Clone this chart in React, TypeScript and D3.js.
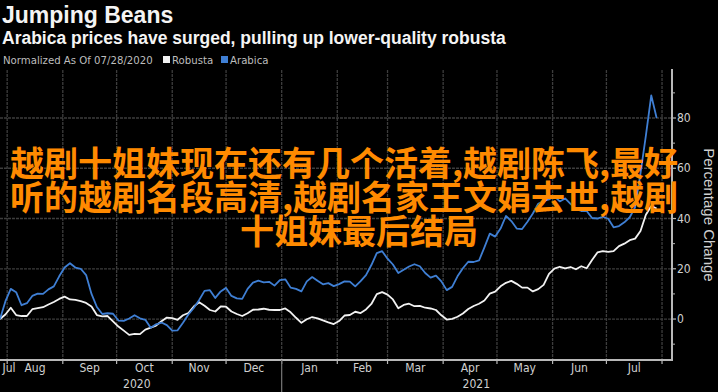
import React from "react";
import * as d3 from "d3";

const W = 718;
const H = 392;

const title = "Jumping Beans";
const subtitle = "Arabica prices have surged, pulling up lower-quality robusta";
const legendNote = "Normalized As Of 07/28/2020";
const seriesNames = ["Robusta", "Arabica"];
const seriesColors = ["#f2f2f2", "#3f7fd4"];
const axisTitle = "Percentage Change";

const dates = [
  "2020-07-28","2020-07-31","2020-08-03","2020-08-06","2020-08-09","2020-08-12","2020-08-15","2020-08-18","2020-08-21","2020-08-24",
  "2020-08-27","2020-08-30","2020-09-02","2020-09-05","2020-09-08","2020-09-11","2020-09-14","2020-09-17","2020-09-20","2020-09-23",
  "2020-09-26","2020-09-29","2020-10-02","2020-10-05","2020-10-08","2020-10-11","2020-10-14","2020-10-17","2020-10-20","2020-10-23",
  "2020-10-26","2020-10-29","2020-11-01","2020-11-04","2020-11-07","2020-11-10","2020-11-13","2020-11-16","2020-11-19","2020-11-22",
  "2020-11-25","2020-11-28","2020-12-01","2020-12-04","2020-12-07","2020-12-10","2020-12-13","2020-12-16","2020-12-19","2020-12-22",
  "2020-12-25","2020-12-28","2020-12-31","2021-01-03","2021-01-06","2021-01-09","2021-01-12","2021-01-15","2021-01-18","2021-01-21",
  "2021-01-24","2021-01-27","2021-01-30","2021-02-02","2021-02-05","2021-02-08","2021-02-11","2021-02-14","2021-02-17","2021-02-20",
  "2021-02-23","2021-02-26","2021-03-01","2021-03-04","2021-03-07","2021-03-10","2021-03-13","2021-03-16","2021-03-19","2021-03-22",
  "2021-03-25","2021-03-28","2021-03-31","2021-04-03","2021-04-06","2021-04-09","2021-04-12","2021-04-15","2021-04-18","2021-04-21",
  "2021-04-24","2021-04-27","2021-04-30","2021-05-03","2021-05-06","2021-05-09","2021-05-12","2021-05-15","2021-05-18","2021-05-21",
  "2021-05-24","2021-05-27","2021-05-30","2021-06-02","2021-06-05","2021-06-08","2021-06-11","2021-06-14","2021-06-17","2021-06-20",
  "2021-06-23","2021-06-26","2021-06-29","2021-07-02","2021-07-05","2021-07-08","2021-07-11","2021-07-14","2021-07-17","2021-07-20",
  "2021-07-23","2021-07-26","2021-07-29"
];

const arabica = [
  0, 7, 12, 10.7, 5.5, 6.3, 9.2, 10.1, 10, 11.8,
  13, 17, 20.5, 22.2, 20.5, 20, 17.5, 10, 4.8, 2,
  2.3, 2.1, -0.6, -0.7, 0.2, 1.5, 0.3, -0.3, -3.5, -2.1,
  -1.4, -2.4, -4.6, -4.5, -1.5, 1.8, 4.4, 7.6, 11.2, 11.5,
  8.4, 11, 12.4, 9.2, 8.2, 8, 12, 14.5, 15.3, 14.6,
  14.8, 13.3, 15.5, 15.8, 12.5, 12, 11, 15, 16.7, 15.2,
  13.8, 14.3, 13.1, 13.9, 15, 14.9, 13, 15.1, 17.5, 21.5,
  26.2, 27, 24, 21.7, 18.3, 19.6, 20.9, 21.8, 21, 18.3,
  16.5, 17.3, 15, 11.5, 12.8, 17, 20.2, 22.8, 22.7, 23.3,
  28.5, 34, 32.8, 36, 41, 39, 36, 35.8, 38.7, 42,
  45.9, 47, 47.6, 48.8, 46.8, 48, 45.8, 43.8, 43, 43,
  40.2, 40, 40.7, 39.9, 36.5, 37, 38.5, 40.5, 44.5, 58,
  73, 89, 80
];

const robusta = [
  0, 1.8, 4.5, 1.6, 1.2, 1.2, 3.9, 4.3, 4.7, 5.8,
  6.8, 8, 8.9, 7.8, 7.6, 7.1, 6.4, 5, 1.6, 1.1,
  1.2, -0.9, -3, -4.6, -6.3, -5.9, -6, -4.2, -3.4, -2.6,
  -0.9, 0.6, 0.4, -0.3, 1.5, 2.4, 5, 6.7, 5.3, 3.6,
  3, 5, 4.9, 3, 2, 1.2, 2.3, 3.7, 3.8, 4.1,
  3.7, 3.6, 3.6, 4.2, 2.7, 0.5, -1.5, -0.1, 0.8, 0.3,
  -0.5, -1.3, -2, -0.8, 1.4, 1.6, 2.9, 2.4, 3.8, 6,
  9.9, 10.7, 9.7, 7.8, 4.3, 5.6, 6.1, 5.1, 5.2, 4.5,
  4.2, 3.6, 1.5, -0.2, 0.1, 0.9, 2.2, 4, 5.2, 6.1,
  7.4, 10.1, 10.9, 13, 14.4, 15.2, 14, 12.5, 12.5, 11,
  11.9, 13.6, 18, 20.1, 20.8, 20.2, 20.7, 19.8, 21, 20.2,
  23.5, 26.5, 27, 26.7, 27, 29, 30, 31.4, 32, 35,
  41.5, 45, 44
];

const yTicks = [0, 20, 40, 60, 80];
const yMinorTicks = [-10, 10, 30, 50, 70, 90];
const monthLabels = ["Jul", "Aug", "Sep", "Oct", "Nov", "Dec", "Jan", "Feb", "Mar", "Apr", "May", "Jun", "Jul"];
const yearLabels = ["2020", "2021"];
const overlayLines = [
  "越剧十姐妹现在还有几个活着,越剧陈飞,最好",
  "听的越剧名段高清,越剧名家王文娟去世,越剧",
  "十姐妹最后结局",
];

const parse = d3.timeParse("%Y-%m-%d");
const condensed = "'Liberation Sans Narrow', 'DejaVu Sans Condensed', 'Roboto Condensed', 'Liberation Sans', sans-serif";

export default function App() {
  const parsed = dates.map((d) => parse(d) as Date);
  const start = parsed[0];
  const end = new Date(2021, 7, 6);
  const plotLeft = 0;
  const plotRight = 671;
  const plotTop = 69;
  const plotBottom = 360;

  const x = d3.scaleTime().domain([start, end]).range([plotLeft, plotRight]);
  const y = d3.scaleLinear().domain([-16.3, 99.5]).range([plotBottom, plotTop]);

  const line = d3
    .line<number>()
    .x((_, i) => x(parsed[i]))
    .y((v) => y(v))
    .curve(d3.curveLinear);

  const monthStarts = d3.timeMonth.range(new Date(2020, 6, 1), new Date(2021, 7, 1));
  const gridMonths = d3.timeMonth.range(new Date(2020, 7, 1), new Date(2021, 7, 2));
  const yearStart = new Date(2021, 0, 1);

  const monthPos = monthStarts.map((m) => {
    const a = m < start ? start : m;
    const nxt = d3.timeMonth.offset(m, 1);
    const b = nxt > end ? end : nxt;
    const mid = (x(a) + x(b)) / 2;
    return Math.max(mid, 9);
  });

  const yearPos = [
    (x(start) + x(yearStart)) / 2 - 4,
    (x(yearStart) + x(end)) / 2,
  ];

  const grid = "#3d3d3d";
  const axisColor = "#b8b8b8";
  const labelColor = "#d0d0d0";

  return (
    <svg
      width={W}
      height={H}
      viewBox={`0 0 ${W} ${H}`}
      style={{ position: "absolute", left: 0, top: 0, display: "block", background: "#000" }}
    >
      <rect x={0} y={0} width={W} height={H} fill="#000" />

      {/* title */}
      <text x={2} y={23} fill="#f4f4f4" fontFamily="'Liberation Sans', Arial, sans-serif" fontWeight="bold" fontSize={23}>
        {title}
      </text>
      <text x={2} y={43.5} fill="#f4f4f4" fontFamily="'Liberation Sans', Arial, sans-serif" fontWeight="bold" fontSize={17.5}>
        {subtitle}
      </text>

      {/* legend */}
      <text x={3} y={64} fill="#bdbdbd" fontFamily={condensed} fontSize={11.3}>
        {legendNote}
      </text>
      <rect x={163} y={56} width={7} height={7} fill={seriesColors[0]} />
      <text x={172} y={64} fill="#bdbdbd" fontFamily={condensed} fontSize={11.3}>
        {seriesNames[0]}
      </text>
      <rect x={221} y={56} width={7} height={7} fill={seriesColors[1]} />
      <text x={230} y={64} fill="#bdbdbd" fontFamily={condensed} fontSize={11.3}>
        {seriesNames[1]}
      </text>

      {/* vertical grid */}
      {gridMonths.map((m, i) => (
        <line
          key={"vg" + i}
          x1={x(m)}
          x2={x(m)}
          y1={plotTop + 1}
          y2={plotBottom}
          stroke={grid}
          strokeWidth={1.3}
          strokeDasharray="3 1"
        />
      ))}
      {/* horizontal grid */}
      {yTicks.map((t) => (
        <line
          key={"hg" + t}
          x1={plotLeft}
          x2={plotRight}
          y1={y(t)}
          y2={y(t)}
          stroke={grid}
          strokeWidth={1.3}
          strokeDasharray="3 1"
        />
      ))}

      {/* series */}
      <path d={line(robusta) || ""} fill="none" stroke={seriesColors[0]} strokeWidth={1.8} strokeLinejoin="round" />
      <path d={line(arabica) || ""} fill="none" stroke={seriesColors[1]} strokeWidth={1.8} strokeLinejoin="round" />

      {/* bottom axis */}
      <line x1={plotLeft} x2={plotRight + 1} y1={plotBottom} y2={plotBottom} stroke={axisColor} strokeWidth={2} />
      {gridMonths.map((m, i) => (
        <line key={"bt" + i} x1={x(m)} x2={x(m)} y1={plotBottom} y2={plotBottom + 4} stroke={axisColor} strokeWidth={1.2} />
      ))}
      <line x1={x(yearStart)} x2={x(yearStart)} y1={plotBottom} y2={H} stroke="#777" strokeWidth={1.2} />
      {monthLabels.map((l, i) => (
        <text
          key={"ml" + i}
          x={monthPos[i]}
          y={372}
          textAnchor="middle"
          fill={labelColor}
          fontFamily={condensed}
          fontSize={12}
        >
          {l}
        </text>
      ))}
      {yearLabels.map((l, i) => (
        <text
          key={"yl" + i}
          x={yearPos[i]}
          y={388}
          textAnchor="middle"
          fill={labelColor}
          fontFamily={condensed}
          fontSize={12}
        >
          {l}
        </text>
      ))}

      {/* right axis */}
      <line x1={plotRight + 1} x2={plotRight + 1} y1={plotTop} y2={plotBottom + 1} stroke={axisColor} strokeWidth={2} />
      {yMinorTicks.map((t) => (
        <line key={"mt" + t} x1={plotRight + 1} x2={plotRight + 4} y1={y(t)} y2={y(t)} stroke={axisColor} strokeWidth={1} />
      ))}
      {yTicks.map((t) => (
        <g key={"yt" + t}>
          <line x1={plotRight + 1} x2={plotRight + 5} y1={y(t)} y2={y(t)} stroke={axisColor} strokeWidth={1.2} />
          <text
            x={plotRight + 6}
            y={y(t)}
            dy="0.35em"
            fill={labelColor}
            fontFamily={condensed}
            fontSize={12}
          >
            {t}
          </text>
        </g>
      ))}
      <text
        transform={`translate(704, 215) rotate(90)`}
        textAnchor="middle"
        fill={labelColor}
        fontFamily="'Liberation Sans', Arial, sans-serif"
        fontSize={15}
      >
        {axisTitle}
      </text>

      {/* overlay text */}
      <text
        textAnchor="middle"
        fill="#ff8a00"
        fontFamily="'Noto Sans CJK SC', sans-serif"
        fontWeight="bold"
        fontSize={34}
      >
        {overlayLines.map((l, i) => (
          <tspan key={"ov" + i} x={i < 2 ? 344 : 359} y={176 + i * 34}>
            {l}
          </tspan>
        ))}
      </text>
    </svg>
  );
}
